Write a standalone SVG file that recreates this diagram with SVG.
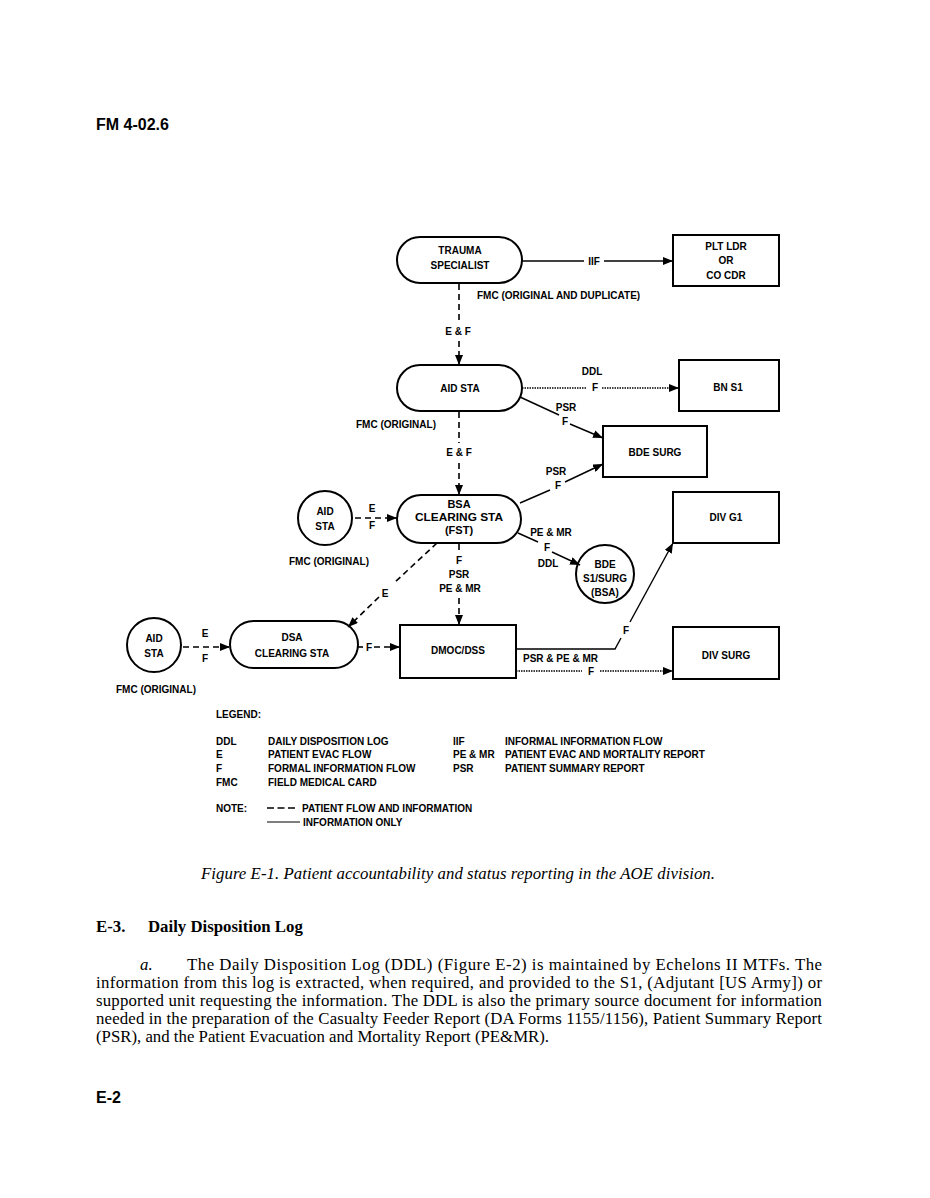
<svg xmlns="http://www.w3.org/2000/svg" width="930" height="1198" viewBox="0 0 930 1198">
<style>
.t{font-family:"Liberation Sans",Arial,sans-serif;font-weight:bold;font-size:10px;fill:#000}
.c{text-anchor:middle}
.n{fill:none;stroke:#000;stroke-width:2}
.s{fill:none;stroke:#000;stroke-width:1.4}
.d{fill:none;stroke:#000;stroke-width:1.6;stroke-dasharray:6 4}
.o{fill:none;stroke:#000;stroke-width:1.4;stroke-dasharray:1.5 1}
.serif{font-family:"Liberation Serif","Times New Roman",serif;font-size:16.8px;fill:#000}
.hd{font-family:"Liberation Sans",Arial,sans-serif;font-weight:bold;font-size:16px;fill:#000}
</style>
<defs>
<marker id="a" viewBox="0 0 10 8" refX="10" refY="4" markerWidth="10" markerHeight="8" markerUnits="userSpaceOnUse" orient="auto">
<path d="M0,0 L10,4 L0,8 Z" fill="#000"/>
</marker>
</defs>
<rect width="930" height="1198" fill="#fff"/>
<text class="hd" x="96" y="130">FM 4-02.6</text>

<g id="trauma"><rect class="n" x="397" y="237" width="125" height="46" rx="23"/>
<text class="t c" x="460" y="254">TRAUMA</text><text class="t c" x="460" y="269">SPECIALIST</text></g>
<g id="pltldr"><rect class="n" x="673" y="235" width="106" height="51"/>
<text class="t c" x="726" y="250">PLT LDR</text><text class="t c" x="726" y="264">OR</text><text class="t c" x="726" y="279">CO CDR</text></g>
<g id="aidsta1"><rect class="n" x="397" y="365" width="125" height="46" rx="23"/>
<text class="t c" x="460" y="392">AID STA</text></g>
<g id="bns1"><rect class="n" x="679" y="360" width="100" height="51"/>
<text class="t c" x="728" y="391">BN S1</text></g>
<g id="bdesurg"><rect class="n" x="603" y="426" width="104" height="51"/>
<text class="t c" x="655" y="456">BDE SURG</text></g>
<g id="bsa"><rect class="n" x="397" y="495" width="124" height="48" rx="24"/>
<text class="t c" x="459" y="508" style="font-size:11px">BSA</text>
<text class="t c" x="459" y="521" style="font-size:11px" textLength="88" lengthAdjust="spacingAndGlyphs">CLEARING STA</text>
<text class="t c" x="459" y="534" style="font-size:11px">(FST)</text></g>
<g id="aidsta2"><circle class="n" cx="325" cy="518" r="27"/>
<text class="t c" x="325" y="515">AID</text><text class="t c" x="325" y="530">STA</text></g>
<g id="bdes1"><circle class="n" cx="605" cy="574" r="29"/>
<text class="t c" x="605" y="568">BDE</text><text class="t c" x="605" y="582">S1/SURG</text><text class="t c" x="605" y="596">(BSA)</text></g>
<g id="divg1"><rect class="n" x="673" y="492" width="106" height="51"/>
<text class="t c" x="726" y="521">DIV G1</text></g>
<g id="aidsta3"><circle class="n" cx="154" cy="645" r="27"/>
<text class="t c" x="154" y="642">AID</text><text class="t c" x="154" y="657">STA</text></g>
<g id="dsa"><rect class="n" x="230" y="621" width="128" height="47" rx="23.5"/>
<text class="t c" x="292" y="641">DSA</text><text class="t c" x="292" y="657">CLEARING STA</text></g>
<g id="dmoc"><rect class="n" x="400" y="625" width="116" height="53"/>
<text class="t c" x="458" y="654">DMOC/DSS</text></g>
<g id="divsurg"><rect class="n" x="673" y="627" width="106" height="52"/>
<text class="t c" x="726" y="659">DIV SURG</text></g>

<g id="connectors">
<line class="s" x1="522" y1="261" x2="584" y2="261"/>
<line class="s" x1="604" y1="261" x2="673" y2="261" marker-end="url(#a)"/>
<text class="t c" x="594" y="265">IIF</text>
<line class="d" x1="459" y1="284" x2="459" y2="323"/>
<line class="d" x1="459" y1="341" x2="459" y2="365" marker-end="url(#a)"/>
<text class="t" x="477" y="299">FMC (ORIGINAL AND DUPLICATE)</text>
<text class="t c" x="458" y="335">E &amp; F</text>

<line class="o" x1="522" y1="388" x2="587" y2="388"/>
<line class="o" x1="602" y1="388" x2="679" y2="388" marker-end="url(#a)"/>
<text class="t c" x="592" y="375">DDL</text><text class="t c" x="595" y="391">F</text>
<line class="s" x1="520" y1="397" x2="559" y2="415"/>
<line class="s" x1="570" y1="424" x2="603" y2="438" marker-end="url(#a)"/>
<text class="t c" x="566" y="411">PSR</text><text class="t c" x="565" y="425">F</text>

<text class="t" x="356" y="428">FMC (ORIGINAL)</text>
<line class="d" x1="459" y1="412" x2="459" y2="443"/>
<line class="d" x1="459" y1="463" x2="459" y2="495" marker-end="url(#a)"/>
<text class="t c" x="459" y="456">E &amp; F</text>

<line class="s" x1="520" y1="503" x2="550" y2="490"/>
<line class="s" x1="565" y1="482" x2="603" y2="464" marker-end="url(#a)"/>
<text class="t c" x="556" y="475">PSR</text><text class="t c" x="558" y="489">F</text>

<line class="d" x1="355" y1="518" x2="397" y2="518" marker-end="url(#a)"/>
<text class="t c" x="372" y="512">E</text><text class="t c" x="372" y="529">F</text>
<text class="t" x="289" y="565">FMC (ORIGINAL)</text>

<line class="s" x1="518" y1="533" x2="538" y2="542"/>
<line class="s" x1="552" y1="552" x2="580" y2="565" marker-end="url(#a)"/>
<text class="t c" x="551" y="536">PE &amp; MR</text><text class="t c" x="547" y="551">F</text><text class="t c" x="548" y="567">DDL</text>

<line class="d" x1="437" y1="543" x2="394" y2="583"/>
<line class="d" x1="379" y1="597" x2="348" y2="627" marker-end="url(#a)"/>
<text class="t c" x="385" y="597">E</text>

<line class="d" x1="459" y1="544" x2="459" y2="553"/>
<line class="d" x1="459" y1="598" x2="459" y2="625" marker-end="url(#a)"/>
<text class="t c" x="459" y="564">F</text><text class="t c" x="459" y="578">PSR</text><text class="t c" x="460" y="592">PE &amp; MR</text>

<line class="d" x1="183" y1="647" x2="230" y2="647" marker-end="url(#a)"/>
<text class="t c" x="205" y="637">E</text><text class="t c" x="205" y="662">F</text>
<text class="t" x="116" y="693">FMC (ORIGINAL)</text>

<line class="d" x1="358" y1="647" x2="363" y2="647"/>
<line class="d" x1="374" y1="647" x2="400" y2="647" marker-end="url(#a)"/>
<text class="t c" x="369" y="651">F</text>

<polyline class="s" points="516,649 615,649 621,638"/>
<line class="s" x1="630" y1="622" x2="673" y2="543" marker-end="url(#a)"/>
<text class="t c" x="626" y="634">F</text>

<line class="o" x1="516" y1="671" x2="582" y2="671"/>
<line class="o" x1="600" y1="671" x2="673" y2="671" marker-end="url(#a)"/>
<text class="t" x="523" y="662">PSR &amp; PE &amp; MR</text><text class="t c" x="591" y="675">F</text>
</g>

<g id="legend">
<text class="t" x="216" y="718">LEGEND:</text>
<text class="t" x="216" y="745">DDL</text><text class="t" x="268" y="745">DAILY DISPOSITION LOG</text>
<text class="t" x="216" y="758">E</text><text class="t" x="268" y="758">PATIENT EVAC FLOW</text>
<text class="t" x="216" y="772">F</text><text class="t" x="268" y="772">FORMAL INFORMATION FLOW</text>
<text class="t" x="216" y="786">FMC</text><text class="t" x="268" y="786">FIELD MEDICAL CARD</text>
<text class="t" x="453" y="745">IIF</text><text class="t" x="505" y="745">INFORMAL INFORMATION FLOW</text>
<text class="t" x="453" y="758">PE &amp; MR</text><text class="t" x="505" y="758">PATIENT EVAC AND MORTALITY REPORT</text>
<text class="t" x="453" y="772">PSR</text><text class="t" x="505" y="772">PATIENT SUMMARY REPORT</text>
<text class="t" x="216" y="812">NOTE:</text>
<line x1="267" y1="808" x2="297" y2="808" stroke="#000" stroke-width="1.6" stroke-dasharray="7 3.5"/>
<text class="t" x="302" y="812">PATIENT FLOW AND INFORMATION</text>
<line x1="267" y1="822" x2="300" y2="822" stroke="#000" stroke-width="1.2"/>
<text class="t" x="303" y="826">INFORMATION ONLY</text>
</g>

<text class="serif" x="201" y="879" font-style="italic" textLength="514" lengthAdjust="spacing">Figure E-1.  Patient accountability and status reporting in the AOE division.</text>
<text class="serif" x="96" y="932" font-weight="bold">E-3.</text>
<text class="serif" x="148" y="932" font-weight="bold">Daily Disposition Log</text>
<text class="serif" x="140" y="970" font-style="italic">a.</text>
<text class="serif" x="187" y="970" textLength="635" lengthAdjust="spacing">The Daily Disposition Log (DDL) (Figure E-2) is maintained by Echelons II MTFs.  The</text>
<text class="serif" x="96" y="988" textLength="726" lengthAdjust="spacing">information from this log is extracted, when required, and provided to the S1, (Adjutant [US Army]) or</text>
<text class="serif" x="96" y="1006" textLength="726" lengthAdjust="spacing">supported unit requesting the information.  The DDL is also the primary source document for information</text>
<text class="serif" x="96" y="1024" textLength="726" lengthAdjust="spacing">needed in the preparation of the Casualty Feeder Report (DA Forms 1155/1156), Patient Summary Report</text>
<text class="serif" x="96" y="1042">(PSR), and the Patient Evacuation and Mortality Report (PE&amp;MR).</text>
<text class="hd" x="96" y="1103">E-2</text>
</svg>
